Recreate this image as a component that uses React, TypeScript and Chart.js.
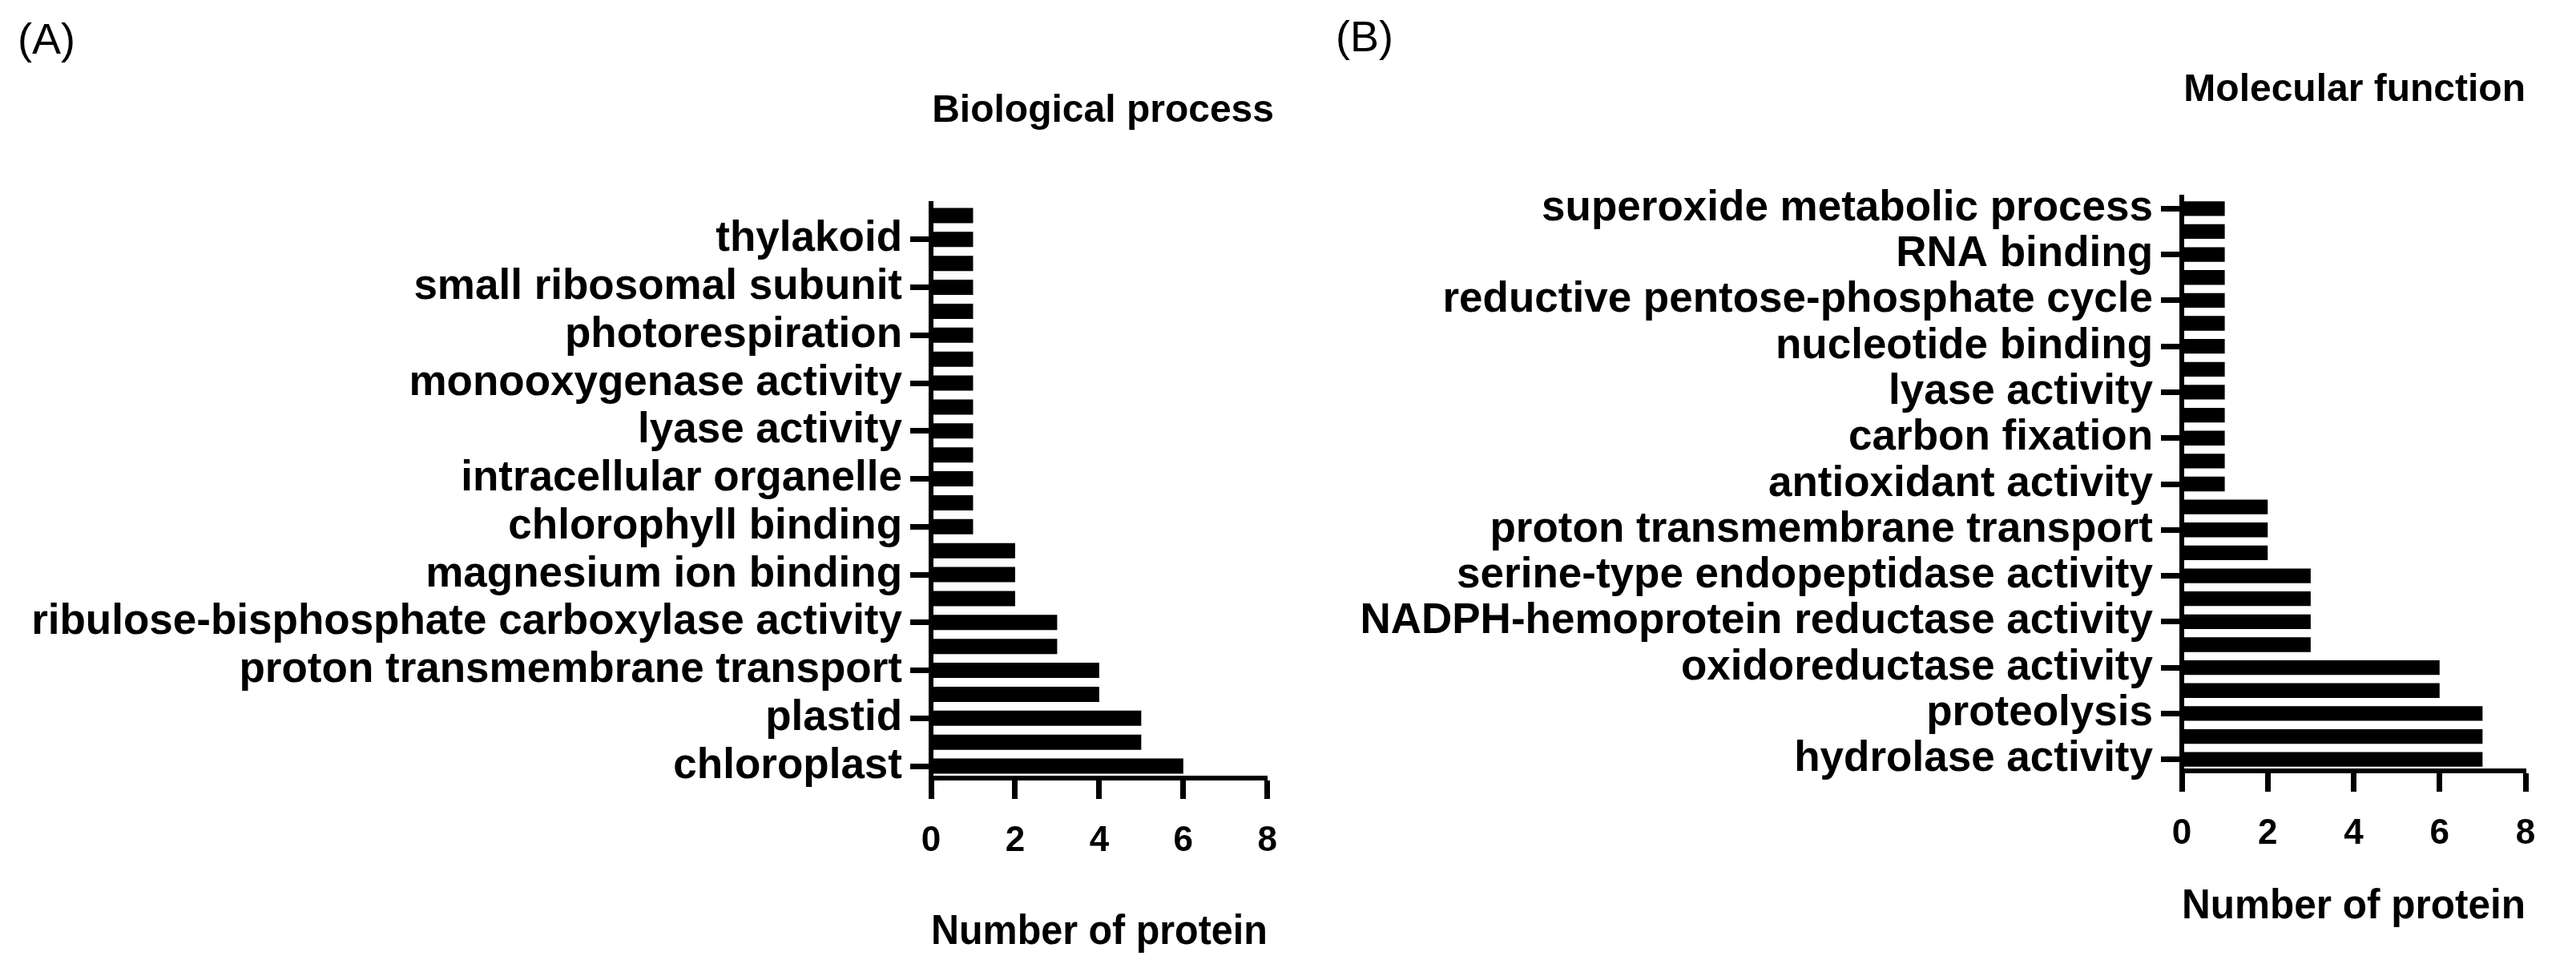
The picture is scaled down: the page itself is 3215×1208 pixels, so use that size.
import React, { useEffect, useRef } from "react";
import { Chart, registerables } from "chart.js";

Chart.register(...registerables);

const FONT = "'Liberation Sans', Arial, Helvetica, sans-serif";

// Panel A – every other bar carries a visible label (as in the source figure)
const categoriesA = [
  "", "thylakoid",
  "", "small ribosomal subunit",
  "", "photorespiration",
  "", "monooxygenase activity",
  "", "lyase activity",
  "", "intracellular organelle",
  "", "chlorophyll binding",
  "", "magnesium ion binding",
  "", "ribulose-bisphosphate carboxylase activity",
  "", "proton transmembrane transport",
  "", "plastid",
  "", "chloroplast",
];
const valuesA = [1, 1, 1, 1, 1, 1, 1, 1, 1, 1, 1, 1, 1, 1, 2, 2, 2, 3, 3, 4, 4, 5, 5, 6];

// Panel B
const categoriesB = [
  "superoxide metabolic process", "",
  "RNA binding", "",
  "reductive pentose-phosphate cycle", "",
  "nucleotide binding", "",
  "lyase activity", "",
  "carbon fixation", "",
  "antioxidant activity", "",
  "proton transmembrane transport", "",
  "serine-type endopeptidase activity", "",
  "NADPH-hemoprotein reductase activity", "",
  "oxidoreductase activity", "",
  "proteolysis", "",
  "hydrolase activity",
];
const valuesB = [1, 1, 1, 1, 1, 1, 1, 1, 1, 1, 1, 1, 1, 2, 2, 2, 3, 3, 3, 3, 6, 6, 7, 7, 7];

const xTickValues = [0, 2, 4, 6, 8];
const xAxisTitle = "Number of protein";

type Spec = {
  tag: string;
  title: string;
  cats: string[];
  vals: number[];
  left: number;
  width: number;
  padLeft: number;
  padRight: number;
  yAxisWidth: number;
  xAxisHeight: number;
  xTitleBottom: number;
  tagTop: number;
  subTop: number;
  subBottom: number;
};

const specA: Spec = {
  tag: "(A)",
  title: "Biological process",
  cats: categoriesA,
  vals: valuesA,
  left: 0,
  width: 1620,
  padLeft: 22,
  padRight: 30,
  yAxisWidth: 1140,
  xAxisHeight: 237,
  xTitleBottom: 13,
  tagTop: 22,
  subTop: 29,
  subBottom: 86,
};

const specB: Spec = {
  tag: "(B)",
  title: "Molecular function",
  cats: categoriesB,
  vals: valuesB,
  left: 1620,
  width: 1595,
  padLeft: 47,
  padRight: 63,
  yAxisWidth: 1056,
  xAxisHeight: 246,
  xTitleBottom: 45,
  tagTop: 19,
  subTop: 6,
  subBottom: 104,
};

function Panel({ spec }: { spec: Spec }) {
  const ref = useRef<HTMLCanvasElement>(null);
  useEffect(() => {
    const canvas = ref.current;
    if (!canvas) return;
    const chart = new Chart(canvas, {
      type: "bar",
      data: {
        labels: spec.cats,
        datasets: [
          {
            data: spec.vals,
            backgroundColor: "#000",
            borderWidth: 0,
            barPercentage: 0.64,
            categoryPercentage: 1,
          },
        ],
      },
      options: {
        animation: false,
        responsive: true,
        maintainAspectRatio: false,
        devicePixelRatio: 1,
        indexAxis: "y",
        layout: { padding: { left: spec.padLeft, right: spec.padRight, top: 0, bottom: 0 } },
        plugins: {
          legend: { display: false },
          tooltip: { enabled: false },
          title: {
            display: true,
            text: spec.tag,
            align: "start",
            color: "#000",
            font: { family: FONT, size: 54, weight: "normal", lineHeight: 1.1 },
            padding: { top: spec.tagTop, bottom: 0 },
          },
          subtitle: {
            display: true,
            text: spec.title,
            align: "end",
            color: "#000",
            font: { family: FONT, size: 48, weight: "bold" },
            padding: { top: spec.subTop, bottom: spec.subBottom },
          },
        },
        scales: {
          x: {
            type: "linear",
            min: 0,
            max: 8,
            afterBuildTicks: (s: any) => {
              s.ticks = xTickValues.map((v) => ({ value: v }));
            },
            ticks: {
              color: "#000",
              font: { family: FONT, size: 44, weight: "bold" },
              padding: 26,
            },
            grid: {
              drawOnChartArea: false,
              drawTicks: true,
              tickLength: 26,
              tickWidth: 7,
              tickColor: "#000",
              color: "#000",
            },
            border: { display: true, color: "#000", width: 6 },
            title: {
              display: true,
              text: xAxisTitle,
              color: "#000",
              font: { family: FONT, size: 52, weight: "bold" },
              padding: { top: 0, bottom: spec.xTitleBottom },
            },
            afterFit: (s: any) => {
              s.height = spec.xAxisHeight;
            },
          },
          y: {
            type: "category",
            offset: true,
            ticks: {
              autoSkip: false,
              color: "#000",
              font: { family: FONT, size: 53, weight: "bold" },
              padding: 10,
            },
            grid: {
              drawOnChartArea: false,
              offset: false,
              drawTicks: true,
              tickLength: 26,
              tickWidth: 7,
              color: "#000",
              tickColor: (ctx: any) => (spec.cats[ctx.index] ? "#000" : "rgba(0,0,0,0)"),
            },
            border: { display: true, color: "#000", width: 6 },
            afterFit: (s: any) => {
              s.width = spec.yAxisWidth;
            },
          },
        },
      } as any,
    });
    return () => chart.destroy();
  }, [spec]);

  return (
    <div
      style={{
        position: "absolute",
        left: spec.left,
        top: 0,
        width: spec.width,
        height: 1208,
        background: "#fff",
      }}
    >
      <canvas ref={ref} style={{ display: "block" }} />
    </div>
  );
}

export default function App() {
  return (
    <div style={{ position: "absolute", left: 0, top: 0, width: 3215, height: 1208, background: "#fff", overflow: "hidden" }}>
      <Panel spec={specA} />
      <Panel spec={specB} />
    </div>
  );
}
